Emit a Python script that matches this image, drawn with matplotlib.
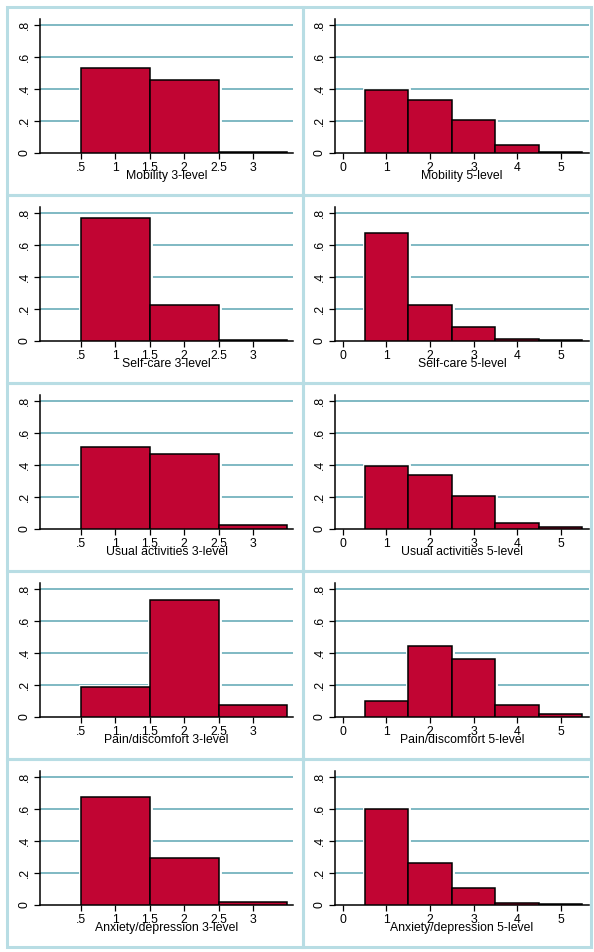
import numpy as np
import matplotlib
matplotlib.use("Agg")
import matplotlib.pyplot as plt
from matplotlib.patches import Rectangle

plt.rcParams['font.family'] = ['Liberation Sans', 'DejaVu Sans']

# dimension names and histogram fractions (3-level and 5-level)
dimensions = ["Mobility", "Self-care", "Usual activities", "Pain/discomfort", "Anxiety/depression"]

levels3 = [1, 2, 3]
levels5 = [1, 2, 3, 4, 5]

frac3 = {
    "Mobility": [0.530, 0.455, 0.005],
    "Self-care": [0.770, 0.225, 0.005],
    "Usual activities": [0.510, 0.468, 0.025],
    "Pain/discomfort": [0.185, 0.730, 0.075],
    "Anxiety/depression": [0.675, 0.295, 0.020],
}
frac5 = {
    "Mobility": [0.393, 0.332, 0.205, 0.050, 0.005],
    "Self-care": [0.675, 0.225, 0.090, 0.012, 0.005],
    "Usual activities": [0.393, 0.337, 0.205, 0.040, 0.012],
    "Pain/discomfort": [0.098, 0.443, 0.360, 0.078, 0.020],
    "Anxiety/depression": [0.600, 0.262, 0.105, 0.012, 0.005],
}

xticks3 = [0.5, 1, 1.5, 2, 2.5, 3]
xticklabels3 = [".5", "1", "1.5", "2", "2.5", "3"]
xticks5 = [0, 1, 2, 3, 4, 5]
xticklabels5 = ["0", "1", "2", "3", "4", "5"]
yticks = [0, 0.2, 0.4, 0.6, 0.8]
yticklabels = ["0", ".2", ".4", ".6", ".8"]

W, H = 594, 952
bar_color = "#c10533"
grid_color = "#5ca6b3"
border_color = "#b8dde4"
fontsize = 8.8

fig = plt.figure(figsize=(W / 100, H / 100), dpi=100)
fig.patch.set_facecolor("white")


def px_axes(x0, y0, x1, y1):
    # pixel box (from top-left) -> figure fraction axes
    return fig.add_axes([x0 / W, 1 - y1 / H, (x1 - x0) / W, (y1 - y0) / H])


def draw_hist(ax, levels, values, xlim, ticks, ticklabels, label):
    left = [l - 0.5 for l in levels]
    # white halo under the bars so grid lines stop short of them
    ax.bar(left, values, width=1, align="edge", color=bar_color,
           edgecolor="white", linewidth=3.5, zorder=2)
    ax.bar(left, values, width=1, align="edge", color=bar_color,
           edgecolor="black", linewidth=1.1, zorder=3)
    ax.set_xlim(*xlim)
    ax.set_ylim(0, 0.8375)
    for y in yticks[1:]:
        ax.axhline(y, color=grid_color, lw=1.1, zorder=1)
    ax.set_xticks(ticks)
    ax.set_xticklabels(ticklabels)
    ax.set_yticks(yticks)
    ax.set_yticklabels(yticklabels, rotation=90, va="center")
    ax.tick_params(axis="x", length=4, width=0.9, pad=2.5, labelsize=fontsize)
    ax.tick_params(axis="y", length=4, width=0.9, pad=2.5, labelsize=fontsize)
    for s in ["top", "right"]:
        ax.spines[s].set_visible(False)
    for s in ["left", "bottom"]:
        ax.spines[s].set_linewidth(1.1)
    ax.set_facecolor("white")
    ax.text(0.5, -23 / 134, label, transform=ax.transAxes,
            ha="center", va="center", fontsize=8.8)


for i, dim in enumerate(dimensions):
    row_top = 7 + i * 188
    ax_top = row_top + 12
    ax_bot = row_top + 146

    ax = px_axes(40, ax_top, 293, ax_bot)
    draw_hist(ax, levels3, frac3[dim], (-0.09, 3.58), xticks3, xticklabels3,
              dim + " 3-level")

    ax = px_axes(335, ax_top, 589, ax_bot)
    draw_hist(ax, levels5, frac5[dim], (-0.18, 5.65), xticks5, xticklabels5,
              dim + " 5-level")

    for x0, x1 in [(7, 303), (303, 591)]:
        fig.add_artist(Rectangle((x0 / W, 1 - (row_top + 188) / H),
                                 (x1 - x0) / W, 188 / H,
                                 transform=fig.transFigure, fill=False,
                                 edgecolor=border_color, lw=2.2))

fig.savefig("out.png", dpi=100)
